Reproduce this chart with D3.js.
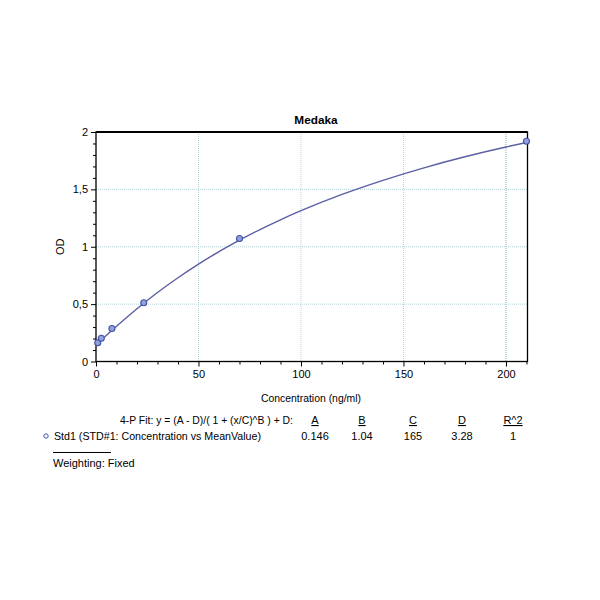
<!DOCTYPE html>
<html>
<head>
<meta charset="utf-8">
<script src="https://cdn.jsdelivr.net/npm/d3@7"></script>
<style>
	body { margin: 0; background: #fff; }
	svg { font-family: "Liberation Sans", Arial, sans-serif; }
</style>
</head>
<body>
<svg id="chart" width="600" height="600"></svg>
<script>
// standards (concentration ng/ml vs mean OD)
var stdConc = [0.86, 2.59, 7.78, 23.3, 70, 210];
var stdOD = [0.164, 0.202, 0.287, 0.512, 1.072, 1.92];

// fitted 4-P curve
var fitConc = [0, 1, 2.5, 5, 10, 20, 30, 40, 50, 60, 70, 80, 90, 100, 120, 140, 160, 180, 200, 210];
var fitOD = [0.146, 0.161, 0.186, 0.227, 0.307, 0.46, 0.601, 0.73, 0.849, 0.957, 1.057, 1.15, 1.235, 1.314, 1.456, 1.579, 1.688, 1.784, 1.869, 1.908];

var xTicks = [0, 50, 100, 150, 200];
var yTicks = [0, 0.5, 1, 1.5, 2];

var fitHeader = ["A", "B", "C", "D", "R^2"];
var fitValues = ["0.146", "1.04", "165", "3.28", "1"];

var svg = d3.select("#chart");
var pLeft = 96, pRight = 527.5, pTop = 132, pBottom = 361.5;

var x = d3.scaleLinear().domain([0, 210.5]).range([pLeft, pRight]);
var y = d3.scaleLinear().domain([0, 2]).range([pBottom, pTop]);

var gridColor = "#b3d3d9";

// grid
svg.append("g").selectAll("line")
	.data(xTicks.filter(function(d) { return d > 0; }))
	.enter().append("line")
	.attr("x1", function(d) { return x(d); })
	.attr("x2", function(d) { return x(d); })
	.attr("y1", pTop).attr("y2", pBottom)
	.style("stroke", function(d) { return d === 200 ? "#7ab4bc" : gridColor; })
	.style("stroke-width", 1)
	.style("stroke-dasharray", "1,1");

svg.append("g").selectAll("line")
	.data(yTicks.filter(function(d) { return d > 0 && d < 2; }))
	.enter().append("line")
	.attr("x1", pLeft).attr("x2", pRight)
	.attr("y1", function(d) { return y(d); })
	.attr("y2", function(d) { return y(d); })
	.style("stroke", gridColor)
	.style("stroke-width", 1)
	.style("stroke-dasharray", "1,1");

// axes
var xAxis = svg.append("g")
	.attr("transform", "translate(0," + pBottom + ")")
	.call(d3.axisBottom(x).tickValues(xTicks).tickSize(5).tickPadding(4));
var xMinor = svg.append("g")
	.attr("transform", "translate(0," + pBottom + ")")
	.call(d3.axisBottom(x).tickValues(d3.range(10, 211, 10).filter(function(d) { return d % 50 !== 0; })).tickSize(3).tickFormat(""));

var yAxis = svg.append("g")
	.attr("transform", "translate(" + pLeft + ",0)")
	.call(d3.axisLeft(y).tickValues(yTicks).tickSize(5).tickPadding(3)
		.tickFormat(function(d) { return String(d).replace(".", ","); }));
var yMinor = svg.append("g")
	.attr("transform", "translate(" + pLeft + ",0)")
	.call(d3.axisLeft(y).tickValues(d3.range(0.1, 2, 0.1).filter(function(d) { return Math.abs(d * 2 - Math.round(d * 2)) > 0.01; })).tickSize(3).tickFormat(""));

[xAxis, xMinor, yAxis, yMinor].forEach(function(g) {
	g.select(".domain").remove();
	g.selectAll("line").style("stroke", "#000").style("stroke-width", 1);
	g.selectAll("text").style("font-size", "11px").style("fill", "#000")
		.style("font-family", "'Liberation Sans', Arial, sans-serif");
});

// frame
svg.append("rect")
	.attr("x", pLeft).attr("y", pTop)
	.attr("width", pRight - pLeft).attr("height", pBottom - pTop)
	.style("fill", "none").style("stroke", "#000").style("stroke-width", 1.3);
svg.append("line")
	.attr("x1", pLeft).attr("x2", pRight).attr("y1", pTop).attr("y2", pTop)
	.style("stroke", "#000").style("stroke-width", 2);

// fit curve
var line = d3.line()
	.x(function(d, i) { return x(fitConc[i]); })
	.y(function(d) { return y(d); })
	.curve(d3.curveMonotoneX);

svg.append("path")
	.datum(fitOD)
	.attr("d", line)
	.style("fill", "none")
	.style("stroke", "#5b5fa3")
	.style("stroke-width", 1.4);

// standard points
svg.append("g").selectAll("circle")
	.data(stdConc)
	.enter().append("circle")
	.attr("cx", function(d) { return x(d); })
	.attr("cy", function(d, i) { return y(stdOD[i]); })
	.attr("r", 3)
	.style("fill", "#93a0dc")
	.style("stroke", "#4253a6")
	.style("stroke-width", 1.1);

// titles
svg.append("text")
	.attr("x", 316).attr("y", 124)
	.attr("text-anchor", "middle")
	.style("font-size", "11.8px").style("font-weight", "bold")
	.text("Medaka");

svg.append("text")
	.attr("x", 311).attr("y", 402)
	.attr("text-anchor", "middle")
	.attr("textLength", 100).attr("lengthAdjust", "spacingAndGlyphs")
	.style("font-size", "11px")
	.text("Concentration (ng/ml)");

svg.append("text")
	.attr("transform", "translate(64," + ((pTop + pBottom) / 2) + ") rotate(-90)")
	.attr("text-anchor", "middle")
	.style("font-size", "11px")
	.text("OD");

// fit table
var colX = [315, 362, 413, 462, 513];

svg.append("text")
	.attr("x", 120).attr("y", 424)
	.attr("textLength", 173).attr("lengthAdjust", "spacingAndGlyphs")
	.style("font-size", "11px")
	.text("4-P Fit: y = (A - D)/( 1 + (x/C)^B ) + D:");

svg.append("g").selectAll("text")
	.data(fitHeader)
	.enter().append("text")
	.attr("x", function(d, i) { return colX[i]; })
	.attr("y", 424)
	.attr("text-anchor", "middle")
	.style("font-size", "11px")
	.style("text-decoration", "underline")
	.text(function(d) { return d; });

svg.append("circle")
	.attr("cx", 46).attr("cy", 436).attr("r", 2.2)
	.style("fill", "#fff").style("stroke", "#4456a8").style("stroke-width", 1);

svg.append("text")
	.attr("x", 54).attr("y", 440)
	.attr("textLength", 207).attr("lengthAdjust", "spacingAndGlyphs")
	.style("font-size", "11px")
	.text("Std1 (STD#1: Concentration vs MeanValue)");

svg.append("g").selectAll("text")
	.data(fitValues)
	.enter().append("text")
	.attr("x", function(d, i) { return colX[i]; })
	.attr("y", 440)
	.attr("text-anchor", "middle")
	.style("font-size", "11px")
	.text(function(d) { return d; });

svg.append("line")
	.attr("x1", 53).attr("x2", 111).attr("y1", 452.5).attr("y2", 452.5)
	.style("stroke", "#000").style("stroke-width", 1);

svg.append("text")
	.attr("x", 53).attr("y", 467)
	.style("font-size", "11px")
	.text("Weighting: Fixed");
</script>
</body>
</html>
